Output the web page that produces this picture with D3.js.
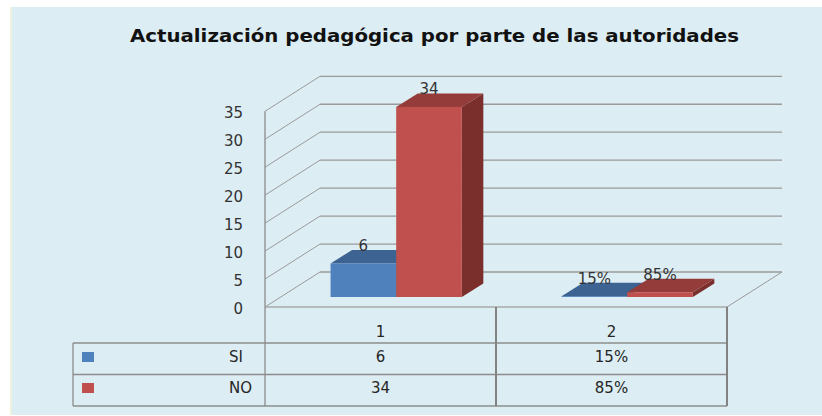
<!DOCTYPE html>
<html>
<head>
<meta charset="utf-8">
<script src="https://cdn.jsdelivr.net/npm/d3@7"></script>
<style>
  html, body { margin: 0; padding: 0; background: #fff; }
  svg { display: block; }
  text { font-family: "DejaVu Sans", sans-serif; fill: #262626; }
</style>
</head>
<body>
<div id="chart"></div>
<script>
// data
const chartTitle = 'Actualización pedagógica por parte de las autoridades';
const categories = ['1', '2'];
const seriesNames = ['SI', 'NO'];
const siValues = [6, 0.15];
const noValues = [34, 0.85];
const siLabels = ['6', '15%'];
const noLabels = ['34', '85%'];
const yTicks = [0, 5, 10, 15, 20, 25, 30, 35];

const width = 822, height = 416;

// colours per series: front, top, side
const colors = {
  SI: { front: '#4f81bd', top: '#3c6392', side: '#35577f' },
  NO: { front: '#c0504d', top: '#943c39', side: '#7a2f2d' }
};

// 3d geometry
const floorFrontY = 307;
const wallDepth = { dx: 55, dy: -35 };   // full floor depth
const barStart = { dx: 15.7, dy: -10 };  // bar front inside the floor
const barDepth = { dx: 21.5, dy: -13.5 };

const x = d3.scaleBand()
  .domain(categories)
  .range([265, 727]);

const xInner = d3.scaleBand()
  .domain(seriesNames)
  .range([0, x.bandwidth()])
  .paddingOuter(0.76);

const y = d3.scaleLinear()
  .domain([0, 35])
  .range([floorFrontY, floorFrontY - 195.7]);

const svg = d3.select('#chart').append('svg')
  .attr('width', width)
  .attr('height', height);

// panel background
svg.append('rect')
  .attr('x', 10).attr('y', 7)
  .attr('width', 3).attr('height', 408)
  .attr('fill', '#eef2dc');
svg.append('rect')
  .attr('x', 12).attr('y', 7)
  .attr('width', width - 12).attr('height', 408)
  .attr('fill', '#dcedf3');

// title
svg.append('text')
  .attr('x', 434.5)
  .attr('y', 42)
  .attr('text-anchor', 'middle')
  .style('font-weight', 'bold')
  .style('font-size', '17.5px')
  .style('fill', '#111')
  .attr('textLength', 609)
  .attr('lengthAdjust', 'spacingAndGlyphs')
  .text(chartTitle);

const gridColor = '#9a9a9a';
const xLeft = x.range()[0], xRight = x.range()[1];

// back wall lines
svg.append('g').selectAll('line')
  .data(yTicks)
  .join('line')
  .attr('x1', xLeft + wallDepth.dx)
  .attr('x2', xRight + wallDepth.dx)
  .attr('y1', d => y(d) + wallDepth.dy)
  .attr('y2', d => y(d) + wallDepth.dy)
  .attr('stroke', gridColor)
  .attr('stroke-width', 1.3);

// side wall lines
svg.append('g').selectAll('line')
  .data(yTicks)
  .join('line')
  .attr('x1', xLeft)
  .attr('x2', xLeft + wallDepth.dx)
  .attr('y1', d => y(d))
  .attr('y2', d => y(d) + wallDepth.dy)
  .attr('stroke', gridColor)
  .attr('stroke-width', 1);

// floor right edge
svg.append('line')
  .attr('x1', xRight).attr('y1', y(0))
  .attr('x2', xRight + wallDepth.dx).attr('y2', y(0) + wallDepth.dy)
  .attr('stroke', gridColor)
  .attr('stroke-width', 1);

// y tick labels
svg.append('g').selectAll('text')
  .data(yTicks)
  .join('text')
  .attr('x', 243)
  .attr('y', d => y(d) + 7)
  .attr('text-anchor', 'end')
  .style('font-size', '15px')
  .style('fill', '#333')
  .text(d => d);

// bars
const barData = [];
categories.forEach((c, i) => {
  barData.push({ cat: c, s: 'SI', v: siValues[i], label: siLabels[i] });
  barData.push({ cat: c, s: 'NO', v: noValues[i], label: noLabels[i] });
});

const $bars = svg.append('g').selectAll('g')
  .data(barData)
  .join('g');

function pts(arr) { return arr.map(p => p.join(',')).join(' '); }

function geom(d) {
  const x0 = x(d.cat) + xInner(d.s) + barStart.dx;
  const x1 = x0 + xInner.bandwidth();
  const yb = y(0) + barStart.dy;
  const yt = y(d.v) + barStart.dy;
  return { x0, x1, yb, yt };
}

$bars.append('polygon')
  .attr('points', d => {
    const g = geom(d);
    return pts([[g.x1, g.yt], [g.x1 + barDepth.dx, g.yt + barDepth.dy],
      [g.x1 + barDepth.dx, g.yb + barDepth.dy], [g.x1, g.yb]]);
  })
  .attr('fill', d => colors[d.s].side);

$bars.append('polygon')
  .attr('points', d => {
    const g = geom(d);
    return pts([[g.x0, g.yt], [g.x1, g.yt],
      [g.x1 + barDepth.dx, g.yt + barDepth.dy], [g.x0 + barDepth.dx, g.yt + barDepth.dy]]);
  })
  .attr('fill', d => colors[d.s].top);

$bars.append('rect')
  .attr('x', d => geom(d).x0)
  .attr('y', d => geom(d).yt)
  .attr('width', xInner.bandwidth())
  .attr('height', d => Math.max(0, geom(d).yb - geom(d).yt))
  .attr('fill', d => colors[d.s].front);

// data labels
svg.append('g').selectAll('text')
  .data(barData)
  .join('text')
  .attr('x', d => (geom(d).x0 + geom(d).x1) / 2)
  .attr('y', d => geom(d).yt + barDepth.dy + 1)
  .attr('text-anchor', 'middle')
  .style('font-size', '15px')
  .style('fill', '#333')
  .text(d => d.label);

// data table
const tableLeft = 73;
const rowY = [floorFrontY, 343, 374.5, 406];
const tableColor = '#8c8c8c';
const $table = svg.append('g');

// header top (floor front edge)
$table.append('line')
  .attr('x1', xLeft).attr('x2', xRight)
  .attr('y1', rowY[0]).attr('y2', rowY[0])
  .attr('stroke', '#a8a8a8').attr('stroke-width', 1.5);

$table.selectAll('line.row')
  .data(rowY.slice(1))
  .join('line')
  .attr('class', 'row')
  .attr('x1', tableLeft).attr('x2', xRight)
  .attr('y1', d => d).attr('y2', d => d)
  .attr('stroke', tableColor).attr('stroke-width', 1.3);

// verticals
$table.append('line')
  .attr('x1', tableLeft).attr('x2', tableLeft)
  .attr('y1', rowY[1]).attr('y2', rowY[3])
  .attr('stroke', tableColor).attr('stroke-width', 1.3);

$table.append('line')
  .attr('x1', xLeft).attr('x2', xLeft)
  .attr('y1', y(35)).attr('y2', rowY[3])
  .attr('stroke', tableColor).attr('stroke-width', 1.3);

$table.selectAll('line.col')
  .data(categories)
  .join('line')
  .attr('class', 'col')
  .attr('x1', d => x(d) + x.bandwidth())
  .attr('x2', d => x(d) + x.bandwidth())
  .attr('y1', rowY[0]).attr('y2', rowY[3])
  .attr('stroke', '#828282').attr('stroke-width', 2);

// category header
$table.selectAll('text.cat')
  .data(categories)
  .join('text')
  .attr('class', 'cat')
  .attr('x', d => x(d) + x.bandwidth() / 2)
  .attr('y', 337)
  .attr('text-anchor', 'middle')
  .style('font-size', '15px')
  .text(d => d);

// series rows
const rows = [
  { s: 'SI', labels: siLabels, y: 362 },
  { s: 'NO', labels: noLabels, y: 393 }
];

rows.forEach(r => {
  $table.append('rect')
    .attr('x', 82).attr('y', r.y - 10)
    .attr('width', 12).attr('height', 10)
    .attr('fill', colors[r.s].front);
  $table.append('text')
    .attr('x', 229).attr('y', r.y)
    .style('font-size', '15px')
    .text(r.s);
  $table.selectAll(null)
    .data(categories)
    .join('text')
    .attr('x', d => x(d) + x.bandwidth() / 2)
    .attr('y', r.y)
    .attr('text-anchor', 'middle')
    .style('font-size', '15px')
    .text((d, i) => r.labels[i]);
});
</script>
</body>
</html>
